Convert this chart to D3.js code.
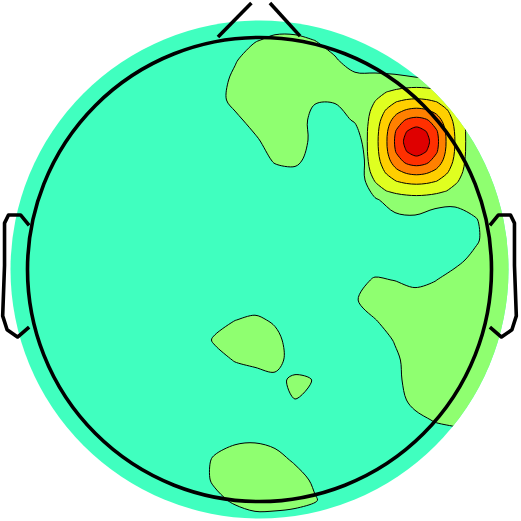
<!DOCTYPE html>
<html><head><meta charset="utf-8">
<script src="https://cdn.jsdelivr.net/npm/d3@7"></script>
<style>html,body{margin:0;padding:0;background:#fff;} svg{display:block;}</style>
</head><body>
<script>
// ---------- DATA ----------
// contour levels of the scalp field
const baseThresholds = [1];
const peakThresholds = [2, 3, 4, 5, 6];
// field values on the whole-scalp grid (rows top->bottom, columns left->right)
const field = [
 [.3,.3,.3,.3,.3,.3,.3,.3,.3,.3,.3,.3,.3,.3,.3,.3,.3,.3,.3,.3,.3,.3,.3,.3,.3,.3,.3],
 [.3,.3,.3,.3,.3,.3,.3,.3,.3,.3,.3,.3,.3,.3,.3,.3,.3,.3,.3,.3,.3,.3,.3,.3,.3,.3,.3],
 [.3,.3,.3,.3,.3,.3,.3,.3,.3,.3,.3,.3,.3,.9,1.25,1.25,.98,.52,.3,.3,.3,.3,.3,.3,.3,.3,.3],
 [.3,.3,.3,.3,.3,.3,.3,.3,.3,.3,.3,.3,.88,1.7,1.7,1.7,1.7,1.12,.4,.35,.3,.3,.3,.3,.3,.3,.3],
 [.3,.3,.3,.3,.3,.3,.3,.3,.3,.3,.3,.36,1.3,1.7,1.7,1.7,1.7,1.7,1.38,1.35,1.28,1.12,1.02,.88,.78,.65,.52],
 [.3,.3,.3,.3,.3,.3,.3,.3,.3,.3,.3,.5,1.37,1.7,1.7,1.7,1.1,1.13,1.7,2.05,2.68,3.19,2.68,2.2,1.7,1.65,1.52],
 [.3,.3,.3,.3,.3,.3,.3,.3,.3,.3,.3,.3,.7,1.46,1.7,1.63,.63,.4,1.16,2.46,4.36,5.45,4.36,2.46,1.7,1.7,1.7],
 [.3,.3,.3,.3,.3,.3,.3,.3,.3,.3,.3,.3,.3,.81,1.65,1.65,.65,.3,.15,2.82,5.26,7.4,5.26,2.82,1.5,1.7,1.7],
 [.3,.3,.3,.3,.3,.3,.3,.3,.3,.3,.3,.3,.3,.3,1.16,1.3,.47,.3,-.3,2.46,4.36,5.45,4.36,2.46,1.5,1.7,1.7],
 [.3,.3,.3,.3,.3,.3,.3,.3,.3,.3,.3,.3,.3,.3,.3,.37,.3,.3,-.1,2.1,2.68,3.19,2.68,2.3,1.5,1.7,1.7],
 [.3,.3,.3,.3,.3,.3,.3,.3,.3,.3,.3,.3,.3,.3,.3,.3,.3,.3,.3,.85,1.53,1.7,1.43,1.35,1.6,1.7,1.7],
 [.3,.3,.3,.3,.3,.3,.3,.3,.3,.3,.3,.3,.3,.3,.3,.3,.3,.3,.3,.3,.69,.77,.44,.35,.89,1.7,1.7],
 [.3,.3,.3,.3,.3,.3,.3,.3,.3,.3,.3,.3,.3,.3,.3,.3,.3,.3,.3,.3,.3,.3,.3,.3,.8,1.7,1.7],
 [.3,.3,.3,.3,.3,.3,.3,.3,.3,.3,.3,.3,.3,.3,.3,.3,.3,.3,.3,.3,.3,.3,.3,.67,1.33,1.7,1.7],
 [.3,.3,.3,.3,.3,.3,.3,.3,.3,.3,.3,.3,.3,.3,.3,.3,.3,.3,.6,1.12,.97,.62,.95,1.49,1.7,1.7,1.7],
 [.3,.3,.3,.3,.3,.3,.3,.3,.3,.3,.3,.3,.3,.3,.3,.3,.3,.3,.87,1.7,1.7,1.62,1.7,1.7,1.7,1.7,1.7],
 [.3,.3,.3,.3,.3,.3,.3,.3,.3,.3,.3,.58,.98,1.22,.84,.3,.3,.3,.3,.95,1.63,1.7,1.7,1.7,1.7,1.7,1.7],
 [.3,.3,.3,.3,.3,.3,.3,.3,.3,.3,.3,1.15,1.7,1.7,1.33,.4,.3,.3,.3,.3,1.1,1.7,1.7,1.7,1.7,1.7,1.7],
 [.3,.3,.3,.3,.3,.3,.3,.3,.3,.3,.3,.58,1.07,1.35,1.42,.45,.3,.3,.3,.3,.74,1.7,1.7,1.7,1.7,1.7,1.7],
 [.3,.3,.3,.3,.3,.3,.3,.3,.3,.3,.3,.3,.35,.4,.72,1.2,.96,.3,.3,.3,.65,1.65,1.7,1.7,1.7,1.7,1.7],
 [.3,.3,.3,.3,.3,.3,.3,.3,.3,.3,.3,.3,.3,.3,.3,.99,.93,.3,.3,.3,.5,1.37,1.7,1.7,1.7,1.7,1.7],
 [.3,.3,.3,.3,.3,.3,.3,.3,.3,.3,.3,.3,.3,.3,.3,.3,.3,.3,.3,.3,.3,.65,1.09,1.33,1.52,1.7,1.7],
 [.3,.3,.3,.3,.3,.3,.3,.3,.3,.3,.3,.5,.78,.88,.65,.3,.3,.3,.3,.3,.3,.3,.3,.33,.52,.71,.9],
 [.3,.3,.3,.3,.3,.3,.3,.3,.3,.3,.3,1.18,1.7,1.7,1.47,.82,.3,.3,.3,.3,.3,.3,.3,.3,.3,.3,.3],
 [.3,.3,.3,.3,.3,.3,.3,.3,.3,.3,.3,1.22,1.7,1.7,1.7,1.58,.75,.3,.3,.3,.3,.3,.3,.3,.3,.3,.3],
 [.3,.3,.3,.3,.3,.3,.3,.3,.3,.3,.3,.66,1.22,1.55,1.54,1.42,1.1,.3,.3,.3,.3,.3,.3,.3,.3,.3,.3],
 [.3,.3,.3,.3,.3,.3,.3,.3,.3,.3,.3,.3,.3,.58,.55,.43,.3,.3,.3,.3,.3,.3,.3,.3,.3,.3,.3]
];
// finer sampling of the field around the frontal-right peak
const peakField = [
 [1.25,1.25,1.25,1.25,1.25,1.25,1.25,1.25,1.25,1.25,1.25,1.25,1.25],
 [1.25,1.25,1.26,1.4,1.48,1.53,1.55,1.53,1.48,1.4,1.26,1.25,1.25],
 [1.25,1.34,1.65,1.97,2.14,2.26,2.31,2.26,2.14,1.97,1.65,1.34,1.25],
 [1.25,1.6,2.08,2.55,2.98,3.18,3.26,3.18,2.98,2.55,2.08,1.6,1.25],
 [1.25,1.77,2.4,3.15,3.8,4.2,4.36,4.2,3.8,3.15,2.4,1.77,1.25],
 [1.25,1.86,2.64,3.61,4.53,5.23,5.47,5.23,4.53,3.61,2.64,1.86,1.25],
 [1.25,1.92,2.78,3.86,5.11,5.99,6.44,5.99,5.11,3.86,2.78,1.92,1.25],
 [1.25,1.93,2.82,3.94,5.27,6.32,7.3,6.32,5.27,3.94,2.82,1.93,1.25],
 [1.25,1.92,2.78,3.86,5.11,5.99,6.44,5.99,5.11,3.86,2.78,1.92,1.25],
 [1.25,1.86,2.64,3.61,4.53,5.23,5.47,5.23,4.53,3.61,2.64,1.86,1.25],
 [1.25,1.77,2.4,3.15,3.8,4.2,4.36,4.2,3.8,3.15,2.4,1.77,1.25],
 [1.25,1.6,2.08,2.55,2.98,3.18,3.26,3.18,2.98,2.55,2.08,1.6,1.25],
 [1.25,1.34,1.65,1.97,2.14,2.26,2.31,2.26,2.14,1.97,1.65,1.34,1.25],
 [1.25,1.25,1.26,1.4,1.48,1.53,1.55,1.53,1.48,1.4,1.26,1.25,1.25],
 [1.25,1.25,1.25,1.25,1.25,1.25,1.25,1.25,1.25,1.25,1.25,1.25,1.25]
];
// head outline shapes, in head-radius units (x right, y down)
const earU = [0.993, 1.030, 1.082, 1.099, 1.099, 1.107, 1.088, 1.043, 0.993];
const earV = [-0.190, -0.235, -0.235, -0.200, -0.017, 0.200, 0.260, 0.291, 0.248];
const noseLeftU = [-0.179, -0.035], noseLeftV = [-1.002, -1.149];
const noseRightU = [0.045, 0.175], noseRightV = [-1.149, -1.006];

// ---------- STYLE / LAYOUT ----------
const bandColors = ["#40FFBF", "#8FFF70", "#DFFF20", "#FFCF00", "#FF8000", "#FF3000", "#DF0000"];
const W = 521, H = 521;
const headCx = 259.5, headCy = 269.5, headR = 232, diskR = 249;
const grid = {x0: -5, y0: 0, step: 20};
const peakGrid = {x0: 356.5, y0: 71.5, step: 10};

const svg = d3.select("body").append("svg").attr("width", W).attr("height", H)
  .style("background", "#fff");

function contourSet(values, g, thr) {
  const nR = values.length, nC = values[0].length;
  const xs = d3.scaleLinear().domain([0.5, nC - 0.5]).range([g.x0, g.x0 + g.step * (nC - 1)]);
  const ys = d3.scaleLinear().domain([0.5, nR - 0.5]).range([g.y0, g.y0 + g.step * (nR - 1)]);
  const ln = d3.line().x(p => xs(p[0])).y(p => ys(p[1])).curve(d3.curveCatmullRomClosed.alpha(0.5));
  return d3.contours().size([nC, nR]).thresholds(thr)(values.flat()).map(c => ({
    value: c.value,
    d: c.coordinates.map(poly => poly.map(r => ln(r.slice(0, -1))).join("")).join("")
  }));
}
const bands = contourSet(field, grid, baseThresholds).concat(contourSet(peakField, peakGrid, peakThresholds));

const hx = d3.scaleLinear().domain([-1, 1]).range([headCx - headR, headCx + headR]);
const hy = d3.scaleLinear().domain([-1, 1]).range([headCy - headR, headCy + headR]);
const allThr = baseThresholds.concat(peakThresholds);
const color = d3.scaleOrdinal().domain(allThr).range(bandColors.slice(1));

svg.append("defs").append("clipPath").attr("id", "diskClip")
  .append("circle").attr("cx", headCx).attr("cy", headCy).attr("r", diskR);

const map = svg.append("g").attr("clip-path", "url(#diskClip)");
map.append("circle").attr("cx", headCx).attr("cy", headCy).attr("r", diskR + 2).attr("fill", bandColors[0]);
map.selectAll("path.band").data(bands).join("path").attr("class", "band")
  .attr("d", d => d.d).attr("fill", d => color(d.value)).attr("stroke", "none");
map.selectAll("path.iso").data(bands).join("path").attr("class", "iso")
  .attr("d", d => d.d).attr("fill", "none").attr("stroke", "#000").attr("stroke-width", 1);

// head
const head = svg.append("g").attr("fill", "none").attr("stroke", "#000")
  .attr("stroke-width", 3.6).attr("stroke-linejoin", "round");
head.append("circle").attr("cx", headCx).attr("cy", headCy).attr("r", headR);
const pl = d3.line().x(d => hx(d[0])).y(d => hy(d[1]));
head.append("path").attr("d", pl(noseLeftU.map((u, i) => [u, noseLeftV[i]])));
head.append("path").attr("d", pl(noseRightU.map((u, i) => [u, noseRightV[i]])));
head.append("path").attr("d", pl(earU.map((u, i) => [u, earV[i]])));
head.append("path").attr("d", pl(earU.map((u, i) => [-u, earV[i]])));
</script>
</body></html>
